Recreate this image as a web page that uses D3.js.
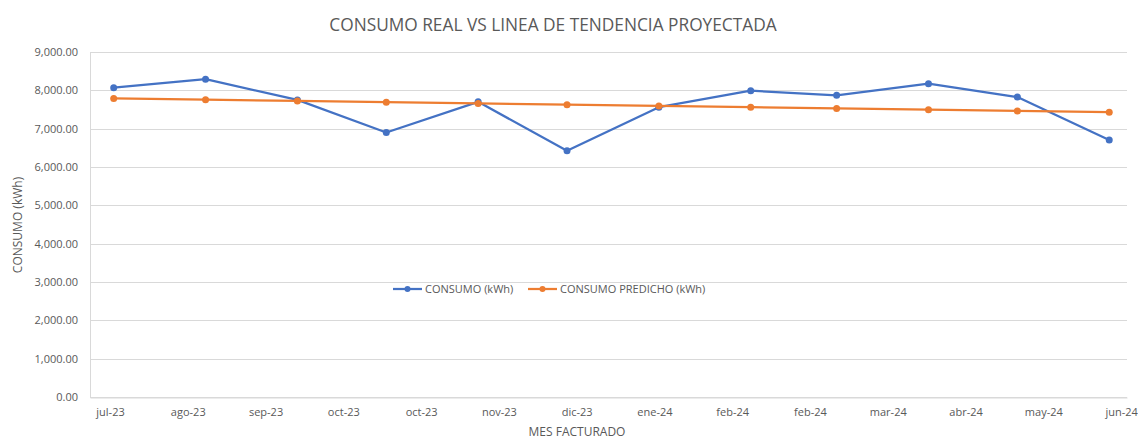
<!DOCTYPE html>
<html>
<head>
<meta charset="utf-8">
<script src="https://d3js.org/d3.v7.min.js"></script>
<style>
  body { margin: 0; background: #fff; }
  text { font-family: "Open Sans", "Noto Sans", sans-serif; fill: #595959; }
</style>
</head>
<body>
<div id="chart"></div>
<script>
    // datos
    var meses = ["2023-07-01", "2023-08-01", "2023-09-01", "2023-10-01", "2023-11-01", "2023-12-01",
                 "2024-01-01", "2024-02-01", "2024-03-01", "2024-04-01", "2024-05-01", "2024-06-01"];
    var consumo = [8070, 8290, 7750, 6900, 7700, 6425, 7560, 7990, 7870, 8175, 7825, 6705];
    var predicho = [7790, 7757, 7724, 7691, 7658, 7626, 7593, 7560, 7527, 7494, 7461, 7430];

    // etiquetas del eje x tal como aparecen
    var tickFechas = ["2023-06-29T18:00", "2023-07-26T00:00", "2023-08-21T06:00", "2023-09-16T12:00",
                      "2023-10-12T18:00", "2023-11-08T00:00", "2023-12-04T06:00", "2023-12-30T12:00",
                      "2024-01-25T18:00", "2024-02-21T00:00", "2024-03-18T06:00", "2024-04-13T12:00",
                      "2024-05-09T18:00", "2024-06-05T00:00"];
    var tickLabels = ["jul-23", "ago-23", "sep-23", "oct-23", "oct-23", "nov-23", "dic-23", "ene-24",
                      "feb-24", "feb-24", "mar-24", "abr-24", "may-24", "jun-24"];
    var yTicks = [0, 1000, 2000, 3000, 4000, 5000, 6000, 7000, 8000, 9000];

    var width = 1138, height = 441;
    var margin = { top: 52, right: 11, bottom: 44, left: 90 };

    var parse = function (s) { return new Date(s); };

    var x = d3.scaleTime()
        .domain([parse("2023-06-23T00:00"), parse("2024-06-07T00:00")])
        .range([margin.left, width - margin.right]);
    var y = d3.scaleLinear()
        .domain([0, 9000])
        .range([height - margin.bottom, margin.top]);

    var svg = d3.select("#chart").append("svg")
        .attr("width", width)
        .attr("height", height);

    // titulo
    svg.append("text")
        .attr("x", 553)
        .attr("y", 31)
        .attr("text-anchor", "middle")
        .style("font-size", "17.3px")
        .text("CONSUMO REAL VS LINEA DE TENDENCIA PROYECTADA");

    // grid horizontal
    svg.append("g")
        .selectAll("line")
        .data(yTicks)
        .enter().append("line")
        .attr("x1", margin.left)
        .attr("x2", width - margin.right)
        .attr("y1", function (d) { return Math.round(y(d)) + 0.5; })
        .attr("y2", function (d) { return Math.round(y(d)) + 0.5; })
        .attr("stroke", "#d9d9d9")
        .attr("stroke-width", 1);

    // eje y
    var yAxis = svg.append("g")
        .attr("transform", "translate(" + margin.left + ",0)")
        .call(d3.axisLeft(y).tickValues(yTicks).tickSize(0).tickPadding(12)
            .tickFormat(d3.format(",.2f")));
    yAxis.select(".domain").attr("stroke", "#d9d9d9");
    yAxis.selectAll("text").style("font-size", "11px").style("fill", "#595959");

    // eje x
    var xAxis = svg.append("g")
        .attr("transform", "translate(0," + (Math.round(y(0)) + 0.5) + ")")
        .call(d3.axisBottom(x).tickValues(tickFechas.map(parse)).tickSize(0).tickPadding(11)
            .tickFormat(function (d, i) { return tickLabels[i]; }));
    xAxis.select(".domain").attr("stroke", "#d9d9d9");
    xAxis.selectAll("text").style("font-size", "11px").style("fill", "#595959");

    // titulos de ejes
    svg.append("text")
        .attr("x", 577)
        .attr("y", 436)
        .attr("text-anchor", "middle")
        .style("font-size", "12px")
        .text("MES FACTURADO");
    svg.append("text")
        .attr("transform", "translate(22,225) rotate(-90)")
        .attr("text-anchor", "middle")
        .style("font-size", "12px")
        .text("CONSUMO (kWh)");

    var series = [
        { name: "CONSUMO (kWh)", values: consumo, color: "#4472C4" },
        { name: "CONSUMO PREDICHO (kWh)", values: predicho, color: "#ED7D31" }
    ];

    var line = d3.line()
        .x(function (d) { return x(d.fecha); })
        .y(function (d) { return y(d.v); });

    series.forEach(function (s) {
        var pts = meses.map(function (m, i) { return { fecha: parse(m + "T00:00"), v: s.values[i] }; });
        svg.append("path")
            .datum(pts)
            .attr("d", line)
            .attr("fill", "none")
            .attr("stroke", s.color)
            .attr("stroke-width", 2.25)
            .attr("stroke-linejoin", "round");
        svg.append("g")
            .selectAll("circle")
            .data(pts)
            .enter().append("circle")
            .attr("cx", function (d) { return x(d.fecha); })
            .attr("cy", function (d) { return y(d.v); })
            .attr("r", 3.5)
            .attr("fill", s.color);
    });

    // leyenda
    var legendX = [393, 528];
    var leg = svg.append("g").attr("transform", "translate(0,289)");
    series.forEach(function (s, i) {
        var g = leg.append("g").attr("transform", "translate(" + legendX[i] + ",0)");
        g.append("line")
            .attr("x1", 0).attr("x2", 29)
            .attr("stroke", s.color).attr("stroke-width", 2.25);
        g.append("circle").attr("cx", 14.5).attr("r", 3).attr("fill", s.color);
        g.append("text")
            .attr("x", 32).attr("y", 4)
            .style("font-size", "11px")
            .text(s.name);
    });
</script>
</body>
</html>
